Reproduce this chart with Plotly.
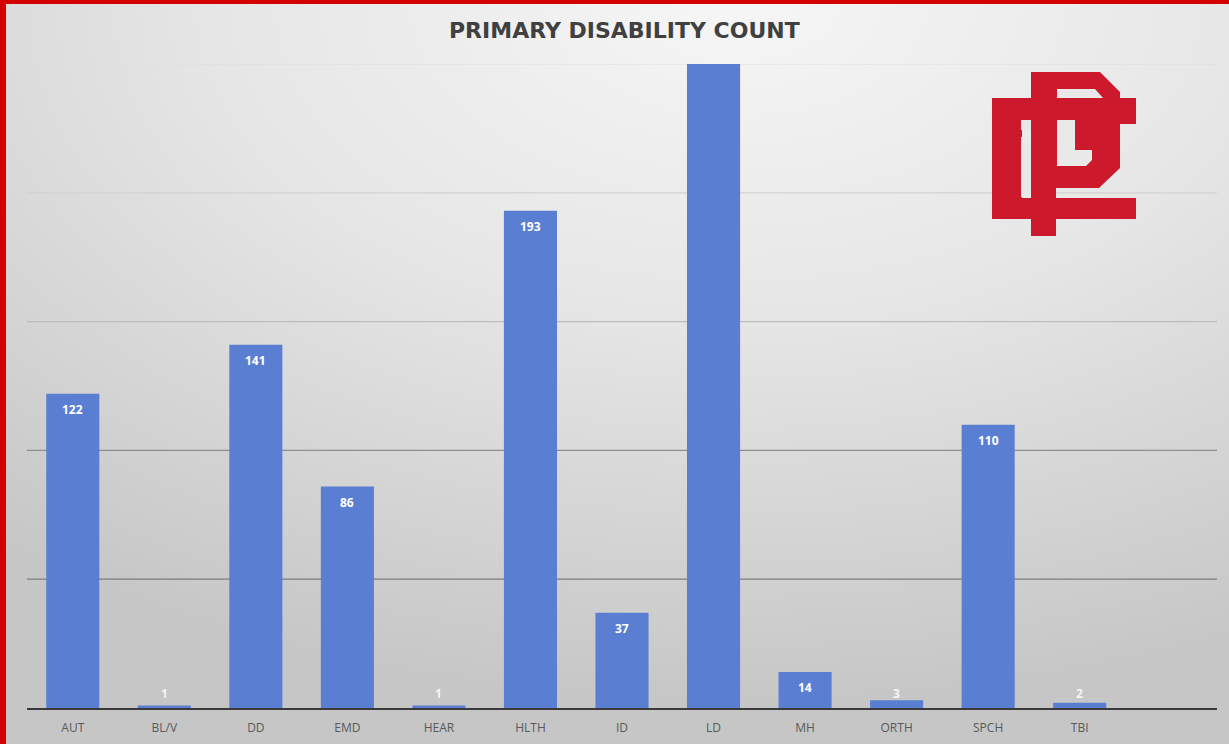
import plotly.graph_objects as go
import urllib.parse

# ---------------- data ----------------
categories = ["AUT", "BL/V", "DD", "EMD", "HEAR", "HLTH", "ID", "LD", "MH", "ORTH", "SPCH", "TBI"]
counts = [122, 1, 141, 86, 1, 193, 37, 260, 14, 3, 110, 2]
grid_values = [50, 100, 150, 200, 250]
grid_colors = ["#7c7c7c", "#8e8e8e", "#bdbdbd", "#d2d2d2", "#dedede"]
y_max = 250

# ---------------- geometry ----------------
W, H = 1229, 744
ML, MR, MT, MB = 27, 12, 64, 36
PW, PH = W - ML - MR, H - MT - MB


def px(xp):
    return (xp - ML) / PW


def py(yp):
    return (H - MB - yp) / PH


fig = go.Figure()
fig.add_trace(go.Bar(
    x=categories, y=counts,
    marker=dict(color="#5a7fd2", line=dict(width=0)),
    hoverinfo="x+y",
))

# value labels (Excel style: inside end, white bold)
unit_px = PH / y_max
annotations = []
for c, v in zip(categories, counts):
    if v * unit_px >= 30:
        annotations.append(dict(x=c, y=v, yshift=-16, text=str(v), showarrow=False,
                                font=dict(family="Open Sans", size=12, color="white", weight="bold"),
                                xref="x", yref="y"))
    else:
        annotations.append(dict(x=c, y=0, yshift=15, text=str(v), showarrow=False,
                                font=dict(family="Open Sans", size=12, color="rgba(255,255,255,0.85)", weight="bold"),
                                xref="x", yref="y"))

# title
annotations.append(dict(x=px(624), y=py(31), xref="paper", yref="paper", text="<b>PRIMARY DISABILITY COUNT</b>",
                        showarrow=False, xanchor="center", yanchor="middle",
                        font=dict(family="DejaVu Sans", size=22, color="#404040")))

shapes = []
# gridlines
for gv, gc in zip(grid_values, grid_colors):
    shapes.append(dict(type="line", xref="paper", yref="y", x0=0, x1=1, y0=gv, y1=gv,
                       line=dict(color=gc, width=1.2), layer="below"))

# red frame
shapes.append(dict(type="rect", xref="paper", yref="paper", x0=px(0), x1=px(6), y0=py(H), y1=py(0),
                   fillcolor="#d20000", line=dict(width=0), layer="above"))
shapes.append(dict(type="rect", xref="paper", yref="paper", x0=px(0), x1=px(W), y0=py(4), y1=py(0),
                   fillcolor="#d20000", line=dict(width=0), layer="above"))

# logo
RED = "#cc1a2c"
HOLE = "#e9e9e9"


def poly(pts, color):
    d = "M " + " L ".join(f"{px(a):.5f},{py(b):.5f}" for a, b in pts) + " Z"
    return dict(type="path", xref="paper", yref="paper", path=d, fillcolor=color,
                line=dict(width=0), layer="above")


def rect(x0, y0, x1, y1, color):
    return poly([(x0, y0), (x1, y0), (x1, y1), (x0, y1)], color)


shapes += [
    rect(992, 98, 1022, 218, RED),
    rect(992, 98, 1136, 120, RED),
    rect(1110, 98, 1136, 124, RED),
    rect(992, 198, 1136, 219, RED),
    rect(1031, 72, 1056, 236, RED),
    poly([(1031, 72), (1100, 72), (1120, 92), (1120, 168), (1099, 188), (1031, 188)], RED),
    poly([(1057, 89), (1095, 89), (1103, 98), (1057, 98)], HOLE),
    rect(1057, 120, 1075, 150, HOLE),
    poly([(1057, 150), (1092, 150), (1092, 160), (1086, 166), (1057, 166)], HOLE),
    rect(1021, 120, 1031, 130, HOLE),
    rect(1021, 137, 1031, 197, HOLE),
]

# gradient background (svg data uri)
svg = f"""<svg xmlns='http://www.w3.org/2000/svg' width='{W}' height='{H}' preserveAspectRatio='none'>
<defs><radialGradient id='g' cx='0.6' cy='0.0' r='0.95' gradientUnits='objectBoundingBox'>
<stop offset='0' stop-color='#f6f6f6'/><stop offset='0.45' stop-color='#e6e6e6'/>
<stop offset='1' stop-color='#c6c6c6'/></radialGradient></defs>
<rect width='{W}' height='{H}' fill='url(#g)'/></svg>"""
bg_uri = "data:image/svg+xml;charset=utf-8," + urllib.parse.quote(svg)

fig.update_layout(
    width=W, height=H,
    margin=dict(l=ML, r=MR, t=MT, b=MB, pad=0, autoexpand=False),
    paper_bgcolor="#cfcfcf",
    plot_bgcolor="rgba(0,0,0,0)",
    showlegend=False,
    bargap=0.42,
    images=[dict(source=bg_uri, xref="paper", yref="paper", x=px(0), y=py(0),
                 sizex=W / PW, sizey=H / PH, sizing="stretch", xanchor="left", yanchor="top",
                 layer="below")],
    shapes=shapes,
    annotations=annotations,
    xaxis=dict(type="category", range=[-0.5, 12.5], showgrid=False, zeroline=False,
               showline=True, linecolor="#3a3a3a", linewidth=1.6, ticks="",
               ticklabelstandoff=8, automargin=False,
               tickfont=dict(family="Open Sans", size=12, color="#595959"), fixedrange=True),
    yaxis=dict(range=[0, y_max], showgrid=False, zeroline=False, showticklabels=False,
               showline=False, fixedrange=True, automargin=False),
)

fig.write_html("out.html")
